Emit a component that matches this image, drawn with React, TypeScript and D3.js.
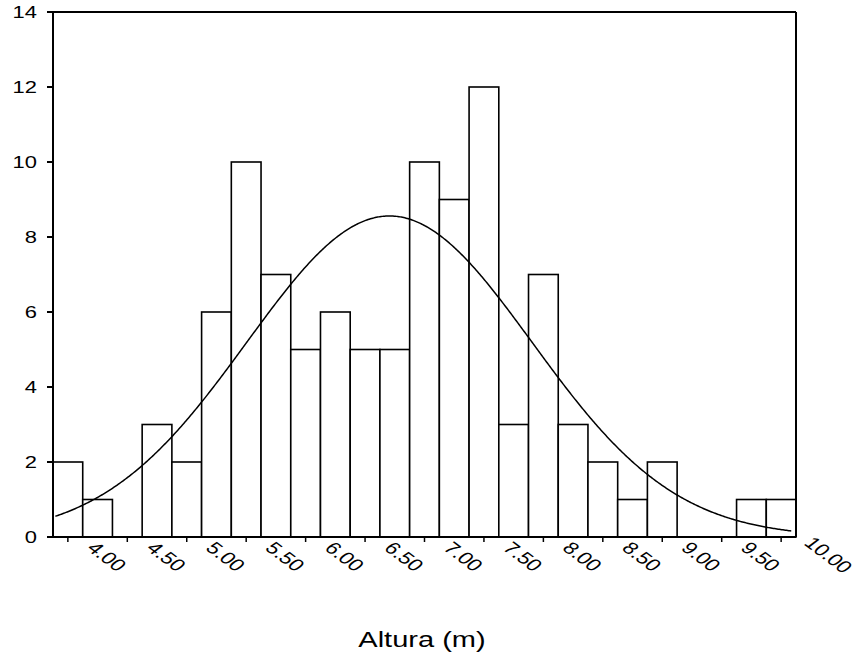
import React from "react";
import * as d3 from "d3";

const binStarts = [3.75, 4.0, 4.25, 4.5, 4.75, 5.0, 5.25, 5.5, 5.75, 6.0, 6.25, 6.5, 6.75, 7.0, 7.25, 7.5, 7.75, 8.0, 8.25, 8.5, 8.75, 9.0, 9.25, 9.5, 9.75];
const counts = [2, 1, 0, 3, 2, 6, 10, 7, 5, 6, 5, 5, 10, 9, 12, 3, 7, 3, 2, 1, 2, 0, 0, 1, 1];
const BIN_WIDTH = 0.25;
const xTickLabels = ["4.00", "4.50", "5.00", "5.50", "6.00", "6.50", "7.00", "7.50", "8.00", "8.50", "9.00", "9.50", "10.00"];
const yTicks = [0, 2, 4, 6, 8, 10, 12, 14];
const MEAN = 6.58;
const SD = 1.2;
const CURVE_FROM = 3.77;
const CURVE_TO = 9.96;
const X_TITLE = "Altura (m)";

const W = 860, H = 660;
const L = 53, R = 796, T = 12, B = 537;
const SX = 1.33;
const FONT = "'Liberation Sans', Arial, sans-serif";

export default function App() {
  const x = d3.scaleLinear().domain([3.75, 10.0]).range([L, R]);
  const y = d3.scaleLinear().domain([0, 14]).range([B, T]);
  const N = d3.sum(counts);
  const dens = (v: number) =>
    (N * BIN_WIDTH) / (SD * Math.sqrt(2 * Math.PI)) * Math.exp(-((v - MEAN) ** 2) / (2 * SD * SD));
  const pts = d3.range(CURVE_FROM, CURVE_TO + 1e-9, 0.01).map((v) => [v, dens(v)] as [number, number]);
  const line = d3.line<[number, number]>().x((d) => x(d[0])).y((d) => y(d[1]));

  return (
    <svg width={W} height={H} style={{ position: "absolute", left: 0, top: 0, background: "#fff" }}>
      <rect x={0} y={0} width={W} height={H} fill="#fff" />
      {binStarts.map((s, i) =>
        counts[i] > 0 ? (
          <rect key={i} x={x(s)} y={y(counts[i])} width={x(s + BIN_WIDTH) - x(s)} height={y(0) - y(counts[i])}
            fill="#fff" stroke="#000" strokeWidth={1.6} />
        ) : null
      )}
      <path d={line(pts) || ""} fill="none" stroke="#000" strokeWidth={1.5} />
      <line x1={L} x2={R} y1={T} y2={T} stroke="#000" strokeWidth={2} />
      <line x1={R} x2={R} y1={T} y2={B} stroke="#000" strokeWidth={2} />
      <line x1={L} x2={L} y1={T} y2={B} stroke="#000" strokeWidth={2} />
      <line x1={L - 6} x2={R} y1={B} y2={B} stroke="#000" strokeWidth={2} />
      {yTicks.map((t) => (
        <g key={t}>
          <line x1={L - 6} x2={L} y1={y(t)} y2={y(t)} stroke="#000" strokeWidth={2} />
          <text transform={`translate(${37},${y(t)}) scale(${SX},1)`} textAnchor="end" dy="0.36em"
            fontFamily={FONT} fontSize={16.5} fill="#000">{t}</text>
        </g>
      ))}
      {xTickLabels.map((lab) => {
        const v = parseFloat(lab);
        const tx = x(v - BIN_WIDTH / 2);
        const extra = lab.length - 4;
        return (
          <g key={lab}>
            {tx <= R ? <line x1={tx} x2={tx} y1={B + 1} y2={B + 5} stroke="#000" strokeWidth={1.5} /> : null}
            <text transform={`translate(${x(v) + 3 + extra * 4},${549 - extra * 5}) scale(${SX},1) rotate(45)`}
              textAnchor="start" fontFamily={FONT} fontSize={17} fill="#000">{lab}</text>
          </g>
        );
      })}
      <text transform={`translate(${422},${647}) scale(1.32,1)`} textAnchor="middle" fontFamily={FONT}
        fontSize={22} fill="#000">{X_TITLE}</text>
    </svg>
  );
}
